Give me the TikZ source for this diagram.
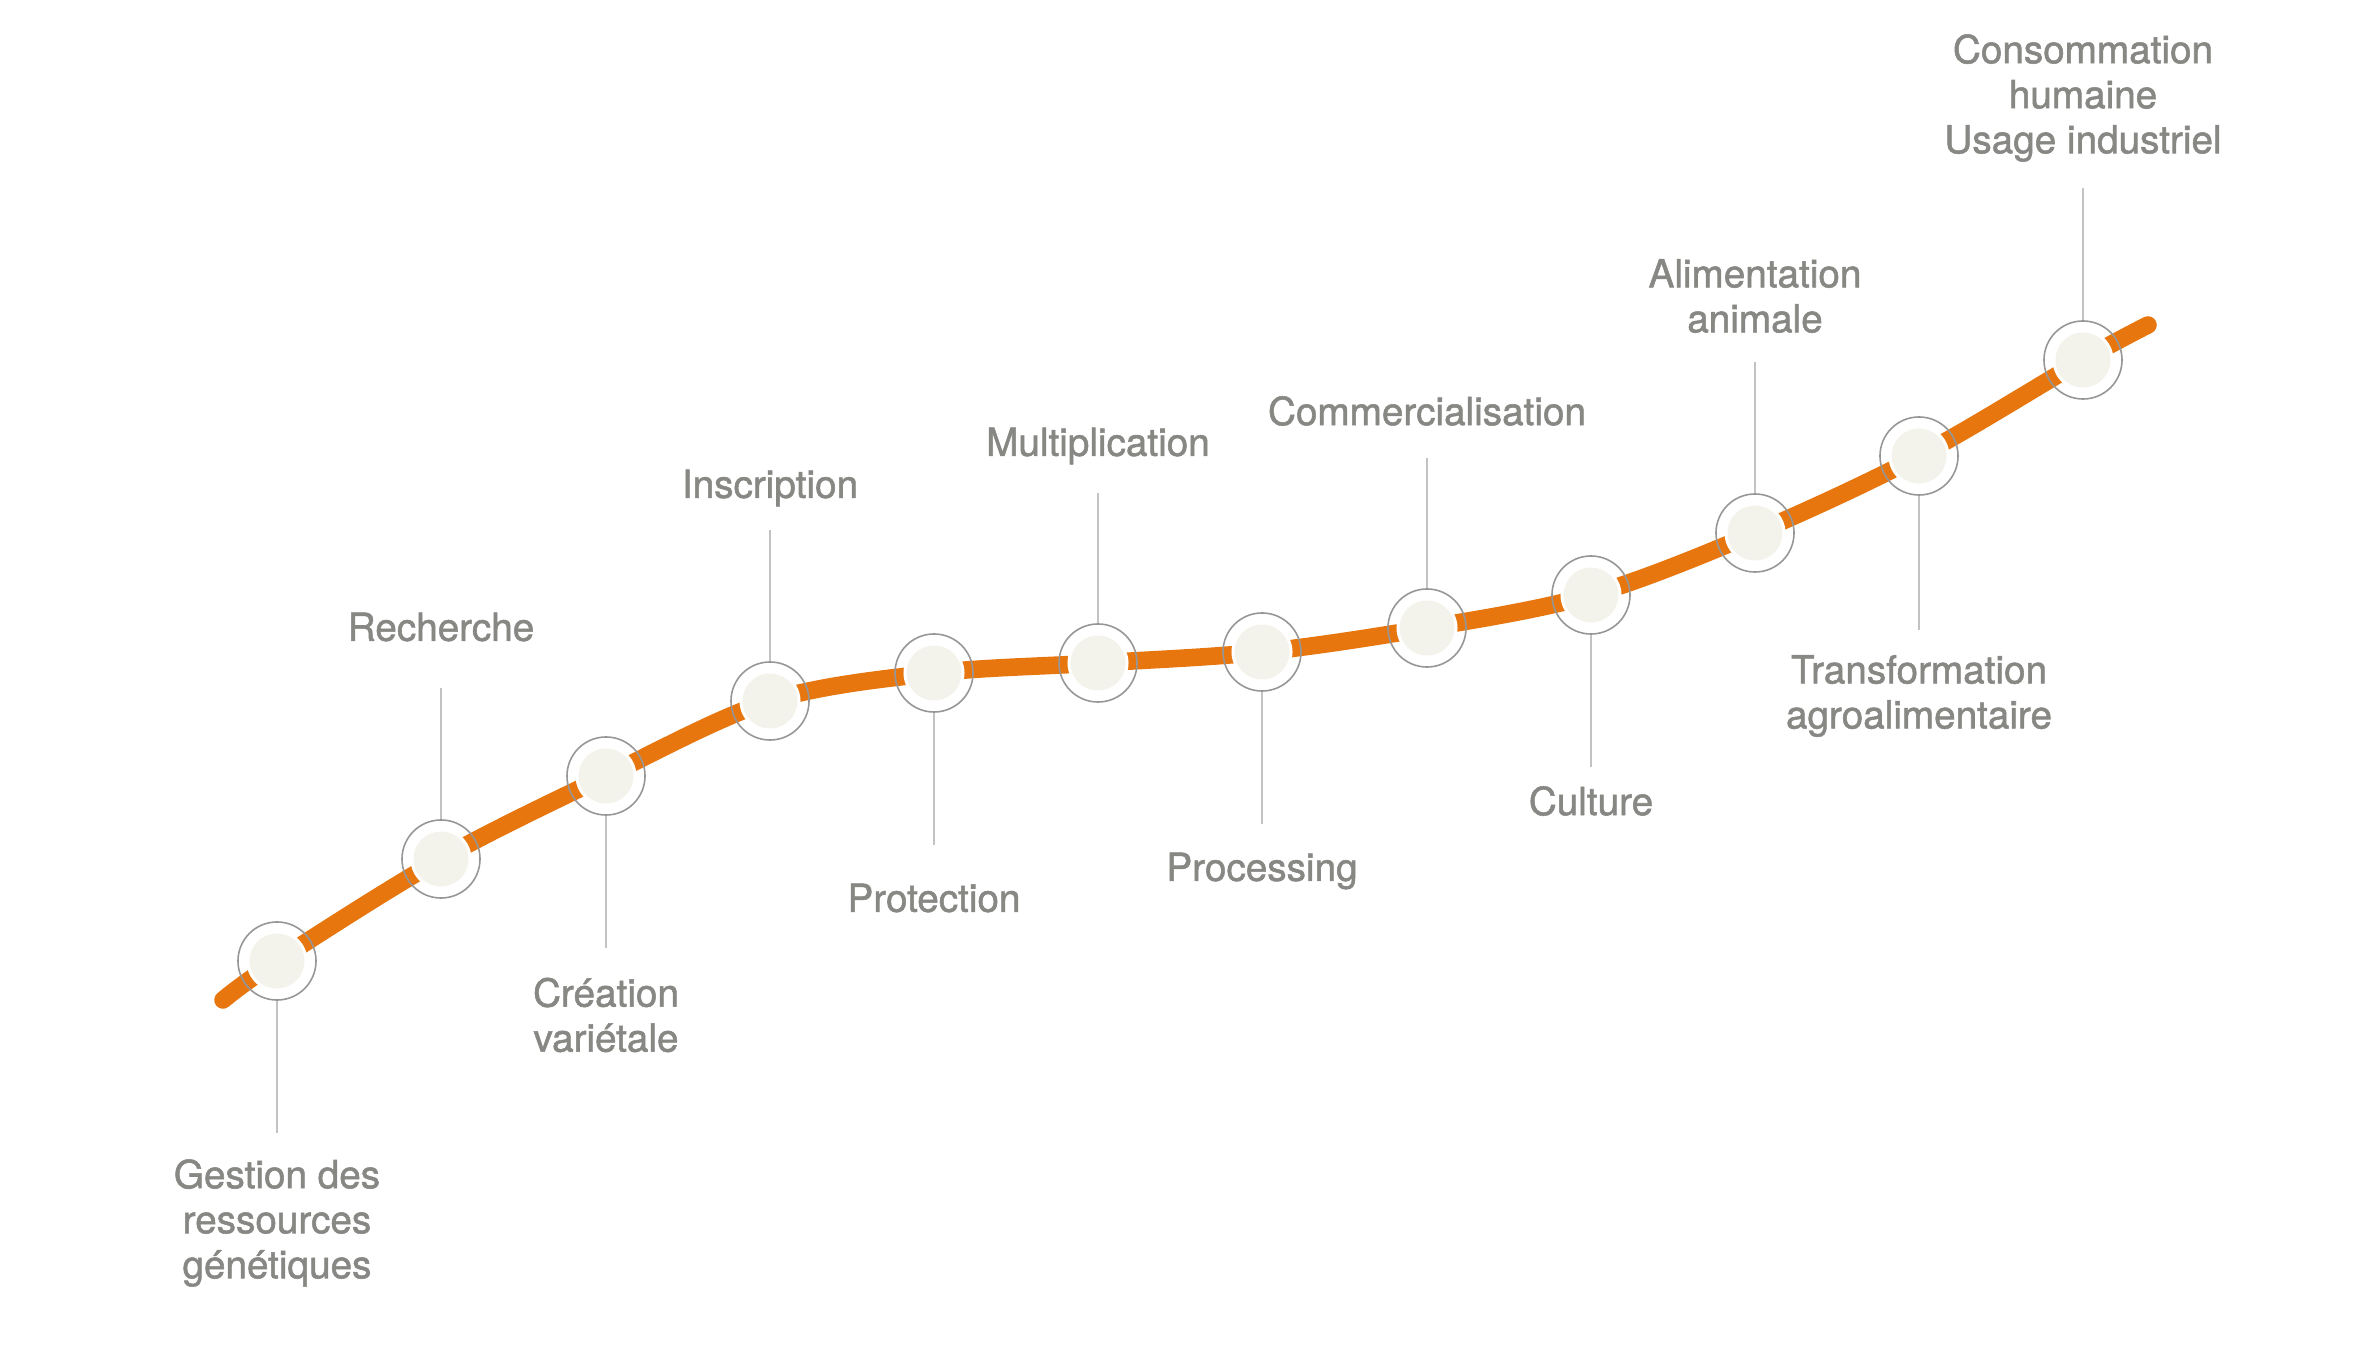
\documentclass[tikz,border=0pt]{standalone}
\usepackage{fontspec}
\setmainfont{TeX Gyre Heros}
\newfontfamily\lblfont{TeX Gyre Heros}[FakeBold=1.4]
\definecolor{curveorange}{RGB}{232,118,14}
\definecolor{diskfill}{RGB}{244,243,235}
\definecolor{ringgray}{RGB}{150,150,150}
\definecolor{leadgray}{RGB}{195,195,195}
\definecolor{labelgray}{RGB}{135,135,132}
\begin{document}
\begin{tikzpicture}[x=0.01cm,y=-0.01cm,
  ring/.style={circle,draw=ringgray,line width=0.45pt,minimum size=0.78cm,inner sep=0pt},
  gapdisk/.style={circle,fill=white,minimum size=0.61cm,inner sep=0pt},
  innerdisk/.style={circle,fill=diskfill,minimum size=0.55cm,inner sep=0pt},
  leader/.style={draw=leadgray,line width=0.5pt},
  lbl/.style={text=labelgray,align=center,font=\lblfont\fontsize{11pt}{12.8pt}\selectfont,inner sep=0pt}]
\useasboundingbox (0,0) rectangle (2362,1352);
% curve
\draw[curveorange,line width=5pt,line cap=round]
  plot[smooth,tension=0.55] coordinates {(223,1000) (277,961) (441,859) (606,776) (770,701) (934,673) (1098,663) (1262,652) (1427,628) (1591,595) (1755,533) (1919,456) (2083,360) (2148,325)};
% stations
\foreach \i/\x/\y in {1/277/961,2/441/859,3/606/776,4/770/701,5/934/673,6/1098/663,7/1262/652,8/1427/628,9/1591/595,10/1755/533,11/1919/456,12/2083/360}{
  \node[gapdisk] at (\x,\y) {};
  \node[innerdisk] at (\x,\y) {};
  \node[ring] (r\i) at (\x,\y) {};
}
% leader ends
\coordinate (e1) at (277,1133);
\coordinate (e2) at (441,688);
\coordinate (e3) at (606,948);
\coordinate (e4) at (770,530);
\coordinate (e5) at (934,845);
\coordinate (e6) at (1098,493);
\coordinate (e7) at (1262,824);
\coordinate (e8) at (1427,458);
\coordinate (e9) at (1591,767);
\coordinate (e10) at (1755,362);
\coordinate (e11) at (1919,630);
\coordinate (e12) at (2083,188);
\foreach \i in {1,3,5,7,9,11}{\draw[leader] (r\i.south) -- (e\i);}
\foreach \i in {2,4,6,8,10,12}{\draw[leader] (r\i.north) -- (e\i);}
% labels
\node[lbl] (t1) at (277,1223) {Gestion des\\ressources\\génétiques};
\node[lbl] (t2) at (441,627) {Recherche};
\node[lbl] (t3) at (606,1015) {Création\\variétale};
\node[lbl] (t4) at (770,488) {Inscription};
\node[lbl] (t5) at (934,898) {Protection};
\node[lbl] (t6) at (1098,446) {Multiplication};
\node[lbl] (t7) at (1262,871) {Processing};
\node[lbl] (t8) at (1427,411) {Commercialisation};
\node[lbl] (t9) at (1591,801) {Culture};
\node[lbl] (t10) at (1755,296) {Alimentation\\animale};
\node[lbl] (t11) at (1919,696) {Transformation\\agroalimentaire};
\node[lbl] (t12) at (2083,98) {Consommation\\humaine\\Usage industriel};
\end{tikzpicture}
\end{document}
